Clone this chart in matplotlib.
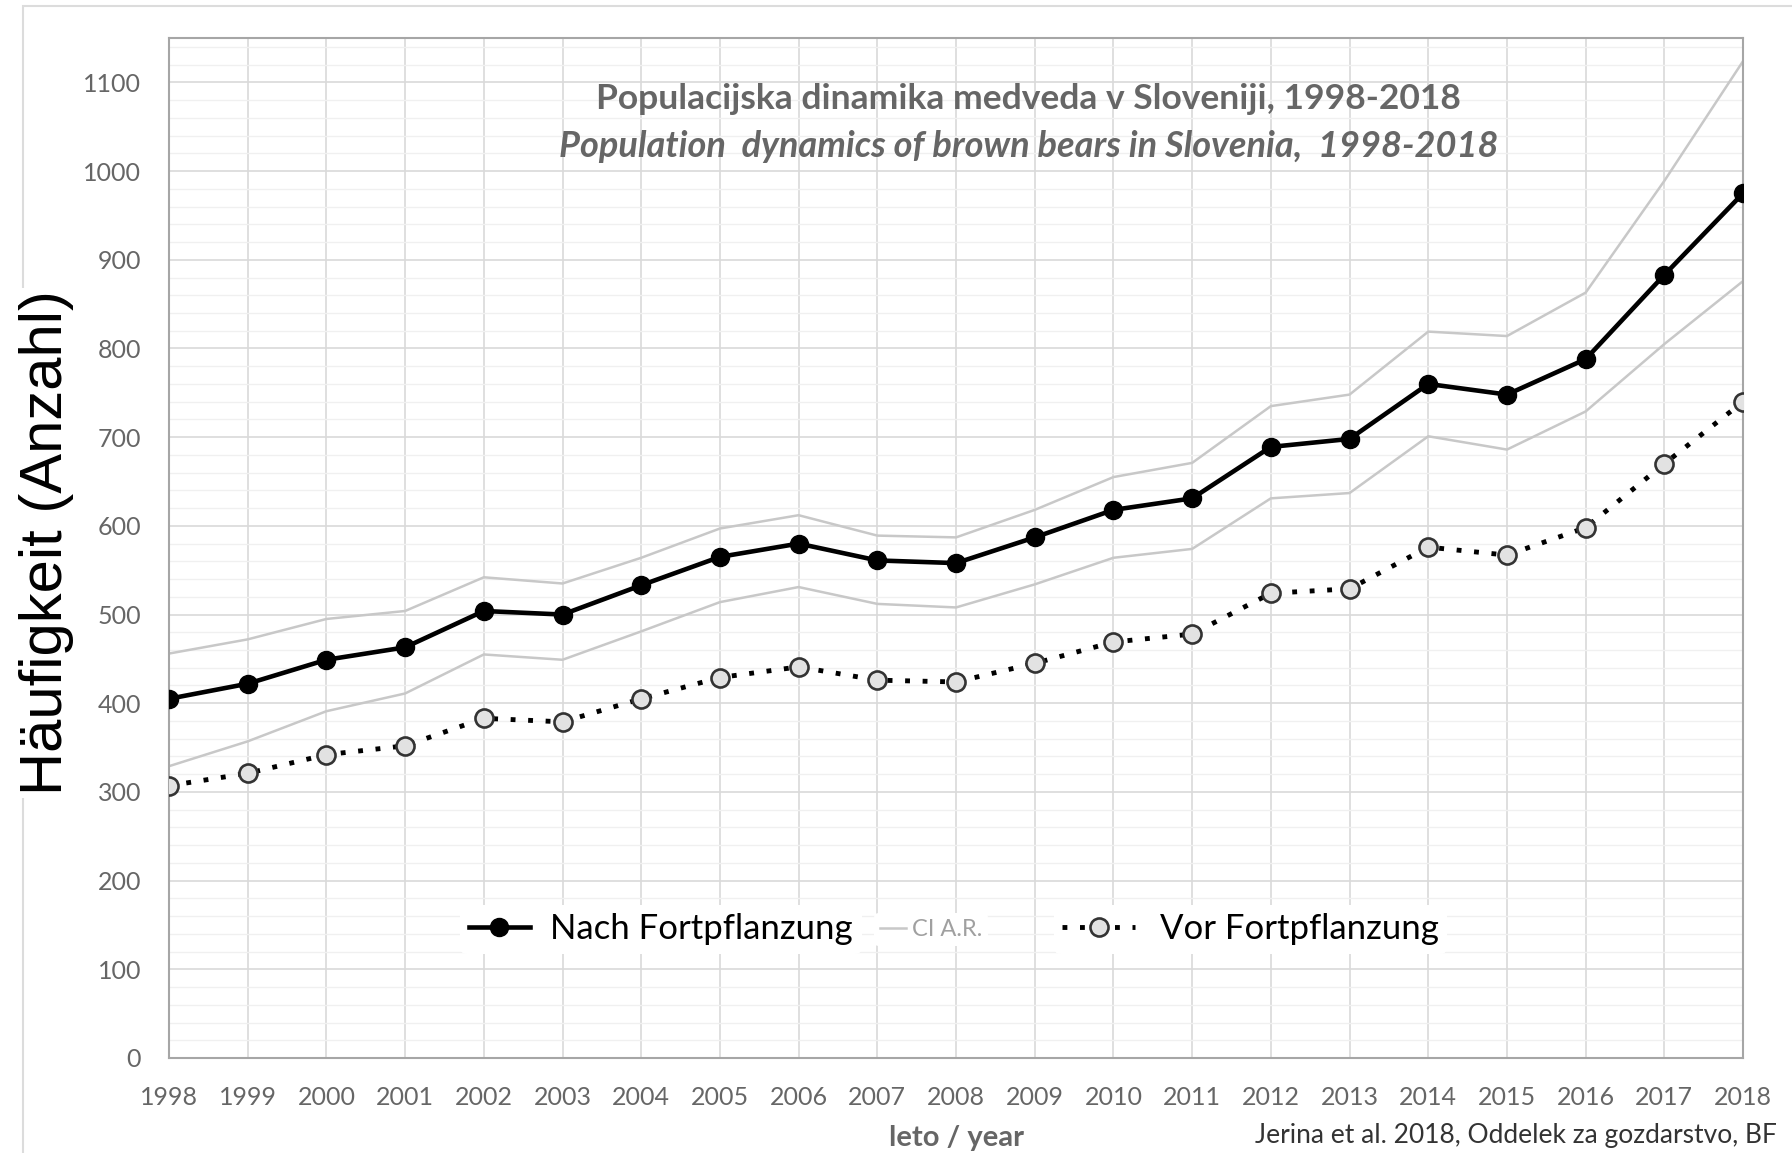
import matplotlib
matplotlib.use("Agg")
import matplotlib.pyplot as plt
from matplotlib.lines import Line2D
from matplotlib.patches import Rectangle
from matplotlib.ticker import MultipleLocator

years = list(range(1998, 2019))
nach = [405, 422, 449, 463, 504, 500, 533, 565, 580, 561, 558,
        587, 618, 631, 689, 698, 760, 748, 788, 883, 975]
vor = [307, 321, 342, 352, 383, 379, 405, 429, 441, 426, 424,
       445, 469, 478, 524, 529, 576, 567, 598, 670, 740]
ci_upper = [456, 472, 495, 504, 542, 535, 564, 597, 612, 589, 587,
            618, 655, 671, 735, 748, 819, 814, 863, 989, 1124]
ci_lower = [329, 357, 391, 411, 455, 449, 481, 514, 531, 512, 508,
            534, 564, 574, 631, 637, 701, 686, 729, 805, 876]

GRAY_TXT = "#666666"
SANS = ["Lato", "DejaVu Sans"]

# line styles shared by plot and legend
NACH_STYLE = dict(color="black", linewidth=3.3, marker="o", markersize=13)
VOR_STYLE = dict(color="black", linewidth=3.5, linestyle=(0, (1, 2.6)),
                 dash_capstyle="butt", marker="o", markersize=13,
                 markerfacecolor="#e2e2e2", markeredgecolor="#333333",
                 markeredgewidth=1.9)
CI_STYLE = dict(color="#c8c8c8", linewidth=1.8)

fig = plt.figure(figsize=(17.92, 11.53), dpi=100)
fig.patch.set_facecolor("white")

# light outer frame of the original screenshot
fig.add_artist(Rectangle((23 / 1792, -0.1), 1.1, 1 - 6 / 1153 + 0.1,
                         transform=fig.transFigure, fill=False,
                         edgecolor="#dcdcdc", linewidth=1.5))

ax = fig.add_axes([0.0943, 0.0824, 0.9727 - 0.0943, 0.967 - 0.0824])
ax.set_xlim(1998, 2018)
ax.set_ylim(0, 1150)

ax.yaxis.set_major_locator(MultipleLocator(100))
ax.yaxis.set_minor_locator(MultipleLocator(20))
ax.set_xticks(years)
ax.set_yticks(list(range(0, 1101, 100)))
ax.grid(True, which="major", color="#d9d9d9", linewidth=1.2)
ax.grid(True, which="minor", axis="y", color="#f0f0f0", linewidth=1.0)
ax.set_axisbelow(True)
for s in ax.spines.values():
    s.set_color("#a6a6a6")
    s.set_linewidth(1.5)
ax.tick_params(which="both", length=0)
ax.tick_params(axis="both", pad=20, labelsize=18, labelcolor=GRAY_TXT)
for lab in ax.get_xticklabels() + ax.get_yticklabels():
    lab.set_family(SANS)

ax.plot(years, ci_upper, zorder=2, **CI_STYLE)
ax.plot(years, ci_lower, zorder=2, **CI_STYLE)
ax.plot(years, nach, zorder=4, **NACH_STYLE)
ax.plot(years, vor, zorder=3, **VOR_STYLE)

ax.text(0.546, 0.94, "Populacijska dinamika medveda v Sloveniji, 1998-2018",
        transform=ax.transAxes, ha="center", va="center", fontsize=25.5,
        fontweight="bold", color=GRAY_TXT, family=SANS)
ax.text(0.546, 0.894, "Population  dynamics of brown bears in Slovenia,  1998-2018",
        transform=ax.transAxes, ha="center", va="center", fontsize=26,
        fontweight="bold", fontstyle="italic", color=GRAY_TXT, family=SANS)

# legend: three separate pieces, as in the pasted-over original
leg_y = 0.126
legends = [
    (Line2D([], [], **NACH_STYLE), "Nach Fortpflanzung", 0.185, 25, "black", 1.75, 0.6),
    (Line2D([], [], **CI_STYLE), "CI A.R.", 0.448, 17, "#a0a0a0", 1.1, 0.25),
    (Line2D([], [], **VOR_STYLE), "Vor Fortpflanzung", 0.562, 25, "black", 2.1, 0.7),
]
for handle, text, x0, size, tcol, hlen, tpad in legends:
    leg = ax.legend([handle], [text], loc="center left",
                    bbox_to_anchor=(x0, leg_y), frameon=True,
                    facecolor="white", edgecolor="none", framealpha=1,
                    handlelength=hlen, handletextpad=tpad, borderpad=0.25,
                    borderaxespad=0, prop={"family": SANS, "size": size})
    leg.get_texts()[0].set_color(tcol)
    ax.add_artist(leg)

ax.set_xlabel("leto / year", fontsize=21, fontweight="bold", color=GRAY_TXT,
              family=SANS, labelpad=12)
fig.text(1777 / 1792, 1 - 1136 / 1153,
         "Jerina et al. 2018, Oddelek za gozdarstvo, BF",
         ha="right", va="center", fontsize=19, color="#333333", family=SANS)

fig.text(46 / 1792, 1 - 543 / 1153, "Häufigkeit (Anzahl)", rotation=90,
         ha="center", va="center", fontsize=43, color="black",
         family=["Liberation Sans", "DejaVu Sans"],
         bbox=dict(facecolor="white", edgecolor="none", pad=2))

fig.savefig("out.png", dpi=100)
